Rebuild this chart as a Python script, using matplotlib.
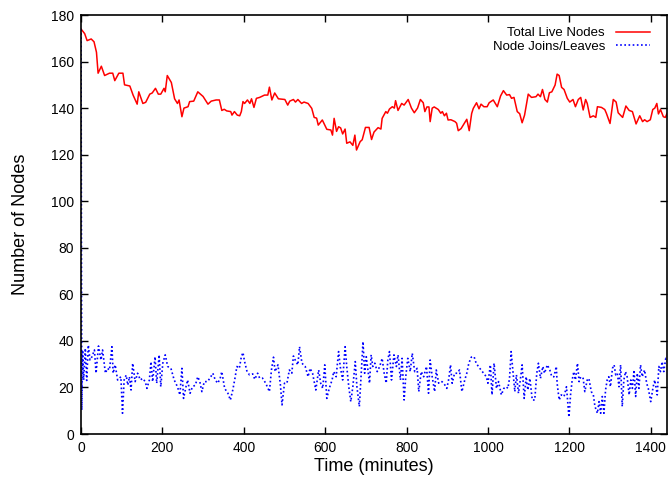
import matplotlib
matplotlib.use("Agg")
import matplotlib.pyplot as plt

plt.rcParams['font.family'] = ['Liberation Sans', 'DejaVu Sans']

# Total live nodes: (minute, count)
live_samples = [
    (0,174),(9,172),(15,169),(25,169.7),(32,168.5),(38,164),(42,155),(50,158),(58,154),(70,155),
    (78,155),(83,151.8),(93,155),(103,155),(107,150),(120,149.5),(128,145.6),(138,141.7),(142,147),(152,142),
    (159,142.5),(169,146),(175,146.5),(183,148.5),(190,146),(196,146),(204,148.5),(207,147),(212,154),(222,151),
    (230,144),(237,142),(241,143.5),(248,136.3),(253,140),(263,140.6),(267,142.8),(277,143),(287,147),(300,145),
    (312,141.7),(320,143),(332,143.5),(340,143.5),(346,139),(352,139.5),(358,138.8),(368,138.5),(371,137),(377,138.5),
    (384,137),(390,136.7),(394,138.5),(398,142.8),(402,142),(409,143.5),(415,142),(419,144),(425,140.3),(431,144.2),
    (439,144.6),(451,145.6),(459,145.6),(463,149),(469,143.5),(476,146.5),
    (485,144),(501,143.7),(508,141.3),(513,143),(522,143.7),(527,142.6),(533,143.7),(542,142),(548,142.6),(558,142),
    (567,139.9),(573,136),(579,135.7),(583,132.7),(593,134.9),(604,130.9),(614,130.6),(618,128.4),(622,135.6),(628,130),
    (633,132),(638,131.5),(643,128.9),(649,131),(653,124.9),(661,125.5),(668,124),(673,128.4),(677,122),(686,125.6),
    (691,126.4),(699,131.7),(708,131.7),(714,126.5),(720,129.7),(730,131.6),(737,131),(740,135.6),(749,138.5),(753,137.8),
    (758,139.6),(765,140.6),(770,140),(773,143.2),(779,139),(788,142),(794,141.3),(804,143.7),(812,140),(819,138),
    (827,140),(834,143.7),(841,142.3),(845,138.5),(850,140.5),(855,140.5),(858,134.2),(863,140),(868,140.5),(878,139.4),
    (884,137.8),(888,138.5),(893,136.7),(898,137.8),(902,134.9),(909,135),(919,134.2),(923,133.5),(927,130.3),(934,131.2),
    (939,132.6),(948,135.2),(954,130.3),(960,137.7),
    (964,139.9),(972,142.3),(978,139.7),(983,141.7),(990,140.6),(998,140.6),(1003,142.3),(1013,143.5),(1023,140.6),(1031,145.2),
    (1038,147.5),(1046,145.6),(1053,145.8),(1058,144.2),(1064,144.6),(1072,138.5),(1078,137.6),(1084,133.7),(1090,137),(1099,146),
    (1107,144.6),(1118,144.9),(1123,146),(1129,144.9),(1134,148),(1140,143.7),(1146,142.6),(1151,146.6),(1157,147),(1161,148.5),
    (1165,149.9),(1170,154.6),(1175,154),(1181,148.9),(1187,148),(1195,144.2),(1201,142.6),(1209,143.7),(1215,140.6),(1222,143.7),
    (1228,144.6),(1234,139.2),(1240,143.7),(1244,142),(1251,136),(1259,136.7),(1265,136),(1269,140.6),(1279,140.3),(1287,139.4),
    (1291,137.8),(1300,133.4),(1308,143.7),(1315,142.6),(1320,138),(1331,136),(1339,140.9),(1347,139),(1355,138.5),(1364,133.2),
    (1373,136.7),(1380,134.2),(1385,135),(1391,134.2),(1399,135),(1405,139.4),(1410,140),(1415,142),(1419,137.5),(1424,139.4),
    (1431,136.3),(1436,136),(1440,137.7),
]

# Node joins/leaves: (minute, count)
churn_samples = [
    (0,174),(2,10.3),(4,36),(6.5,23.2),(10.6,36.8),(14,23),(18,38.2),(22,31.8),(27,33.2),(33,36.1),
    (37,26.1),(43,37.8),(49,31.8),(53,36.1),(60,26.1),(65,28.2),(70,27.5),(76,37.5),(79,26.1),(84,29.7),
    (90,23.2),(98,24.6),(102,8.9),(106,23.2),(111,25.3),(115,21),(119,24.6),(123,18.9),(127,30.4),(133,22.5),
    (139,26.1),(146,23.2),(151,23.9),(158,22.5),(162,19.6),(168,23.2),(172,31.1),(176,22.5),(182,33.2),(186,21.8),
    (192,34),(196,20.3),(201,30.4),(207,34),(213,29),(221,28.2),(229,23.2),(237,20.3),(243,16.8),(248,28.2),
    (252,15.3),(258,20.3),(262,23.2),(268,17.5),(274,20.3),(281,21),(287,24.6),(292,22.5),(297,18.2),(303,22.5),
    (311,22.5),(319,24.6),(324,26.1),(330,23.2),(336,21.8),(342,23.9),
    (346,26.8),(353,19.6),(361,17.5),(367,14.6),(373,18.9),(379,24.6),(383,29),(389,28.2),(394,33.2),(398,35),
    (402,31.1),(408,26.8),(414,25.4),(422,25.8),(427,23.5),(434,26.1),(439,24),(446,24),(454,21.8),(463,18.2),
    (468,27.5),(473,33),(477,26.8),(484,29.7),(490,21.1),(494,12.5),(500,21.8),(506,21.8),(512,27.5),(518,26.1),
    (522,33.5),(528,31.1),(533,29.7),(537,37.5),(543,30.4),(551,29),(558,24.6),(563,28.2),(569,26.1),(577,18.9),
    (584,27.5),(589,21.8),(594,19.6),(599,29.7),(604,15.3),(610,19.6),(617,23.2),(621,26.8),(627,24.6),(633,35.4),
    (637,29),(643,23.2),(649,37.5),(653,29),(658,20.3),(663,13.9),(668,20.3),(674,31.1),(678,20.3),(684,11.8),
    (689,27.5),(693,39.7),(697,26.1),(701,33.2),
    (705,27.5),(709,21.8),(713,34),(717,29),(722,30.4),(728,26.8),(734,29),(740,32.5),(745,26.1),(750,21.8),
    (754,31.8),(758,35.4),(763,23.2),(769,34),(775,29),(779,34),(785,23.2),(789,32.5),(794,14.6),(798,24.6),
    (803,32.5),(809,26.8),(814,34.7),(820,26.8),(826,28.2),(830,18.2),(836,26.8),(842,24.6),(849,29),(854,17.5),
    (858,31.8),(863,24.6),(869,18.2),(873,27.5),(879,21.8),(887,22.5),(894,21.1),(899,19.6),(904,23.9),(908,29.7),
    (912,21.8),(918,26.1),(925,26.1),(930,27.5),(936,18.2),(943,23.2),(948,26.1),(953,30.4),(959,33),(966,33.2),
    (971,30.4),(980,28.2),(988,26.4),(996,24.6),(1000,21.8),(1006,29.7),(1010,16.8),(1015,30.4),(1021,19.6),(1026,22.5),
    (1033,16.8),(1039,19.6),(1045,20.3),(1049,19.6),(1053,23.9),(1057,35.4),(1062,26.1),(1066,18.2),
    (1070,25.4),(1075,17.5),(1080,23.9),(1084,29.7),(1089,15.3),(1094,24.6),(1098,18.9),(1103,23.9),(1109,14.6),(1115,14.6),
    (1120,26.1),(1124,30.4),(1129,23.9),(1135,29),(1139,26.1),(1146,29.7),(1152,27.5),(1157,24.6),(1162,24.6),(1168,29),
    (1170,21.8),(1175,14.6),(1180,16.8),(1187,16.1),(1193,20.3),(1197,11.8),(1199,7.2),(1203,16.8),(1207,23.2),(1211,26.8),
    (1215,23.2),(1220,30.4),(1224,22.5),(1228,24.6),(1234,23.9),(1238,18.2),(1244,23.2),(1248,23.9),(1254,18.2),(1259,16.8),
    (1263,11.8),(1269,8.9),(1273,13.9),(1277,8.9),(1281,16.1),(1285,8.9),(1289,18.9),(1293,23.2),(1297,24.6),(1301,20.3),
    (1306,28.2),(1310,29.7),(1314,25.4),(1318,26.1),(1322,20.3),(1326,29.7),(1330,11.8),(1334,23.2),(1338,26.8),(1342,24.6),
    (1347,16.8),(1351,23.2),(1355,19.6),(1359,27.5),(1363,16.1),(1367,26.1),(1371,19.6),(1375,29.7),(1379,24.6),(1385,27.5),
    (1390,21.8),(1394,19.6),(1400,13.9),(1406,20.3),(1410,23.2),(1416,16.8),(1420,29),(1424,26.8),(1428,31.1),(1432,26.8),
    (1437,32.5),(1441,31.1),
]

x_ticks = [0, 200, 400, 600, 800, 1000, 1200, 1400]
y_ticks = [0, 20, 40, 60, 80, 100, 120, 140, 160, 180]
series_names = ["Total Live Nodes", "Node Joins/Leaves"]
x_label = "Time (minutes)"
y_label = "Number of Nodes"

live_t = [p[0] for p in live_samples]
live_v = [p[1] for p in live_samples]
churn_t = [p[0] for p in churn_samples]
churn_v = [p[1] for p in churn_samples]

fig = plt.figure(figsize=(6.68, 4.84), dpi=100)
ax = fig.add_axes([81/668, 1 - 434/484, (667 - 81)/668, (434 - 15)/484])

ax.plot(live_t, live_v, color='#ff0000', lw=1.1, label=series_names[0])
ax.plot(churn_t, churn_v, color='#0000ff', lw=1.2, linestyle=(0, (1, 1.5)),
        label=series_names[1])

ax.set_xlim(0, 1440)
ax.set_ylim(0, 180)
ax.set_xticks(x_ticks)
ax.set_yticks(y_ticks)
ax.tick_params(direction='in', length=5, width=1, top=True, right=True,
               labelsize=10, colors='black', pad=5)
for s in ax.spines.values():
    s.set_linewidth(1.2)
    s.set_color('black')

ax.set_xlabel(x_label, fontsize=13, labelpad=2)
ax.set_ylabel(y_label, fontsize=13, labelpad=16)

leg = ax.legend(loc='upper right', frameon=False, markerfirst=False,
                fontsize=9.5, handlelength=2.6, handletextpad=0.8,
                borderaxespad=0.9, labelspacing=0.1)
leg.set_bbox_to_anchor((1.0, 1.012), transform=ax.transAxes)

fig.savefig('out.png', dpi=100)
